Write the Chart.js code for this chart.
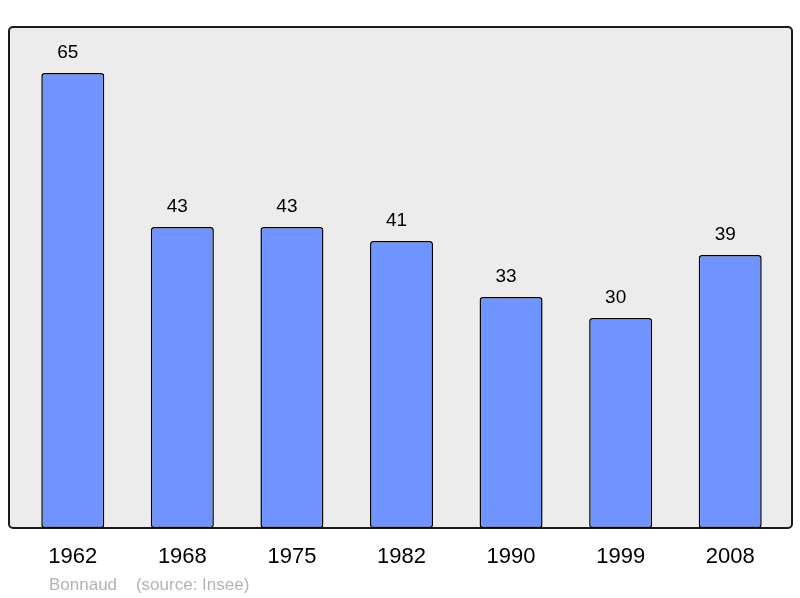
<!DOCTYPE html>
<html>
<head>
<meta charset="utf-8">
<script src="https://cdn.jsdelivr.net/npm/chart.js@4"></script>
<style>
  html, body { margin: 0; padding: 0; background: #fff; }
  #wrap { width: 800px; height: 598px; }
</style>
</head>
<body>
<div id="wrap"><canvas id="chart" width="800" height="598"></canvas></div>
<script>
// Population by census year
const years = ["1962", "1968", "1975", "1982", "1990", "1999", "2008"];
const population = [65, 43, 43, 41, 33, 30, 39];
const footerText = "Bonnaud    (source: Insee)";

// Grey framed box behind the bars
const framePlugin = {
    id: "frame",
    beforeDraw(chart) {
        const { ctx, chartArea } = chart;
        const x = chartArea.left - 9, y = chartArea.top;
        const w = chartArea.right - chartArea.left + 16, h = chartArea.bottom - chartArea.top;
        ctx.save();
        ctx.beginPath();
        ctx.roundRect(x, y, w, h, 4);
        ctx.fillStyle = "#ececec";
        ctx.fill();
        ctx.lineWidth = 2;
        ctx.strokeStyle = "#1a1a1a";
        ctx.stroke();
        ctx.restore();
    },
    afterDraw(chart) {
        const { ctx } = chart;
        ctx.save();
        ctx.font = "17px 'Liberation Sans', Arial, sans-serif";
        ctx.fillStyle = "#b3b3b3";
        ctx.textBaseline = "alphabetic";
        ctx.fillText(footerText, 49, 590);
        ctx.restore();
    }
};

// Value written above each bar
const valuePlugin = {
    id: "values",
    afterDatasetsDraw(chart) {
        const { ctx } = chart;
        const meta = chart.getDatasetMeta(0);
        ctx.save();
        ctx.font = "19px 'Liberation Sans', Arial, sans-serif";
        ctx.fillStyle = "#000";
        ctx.textAlign = "center";
        ctx.textBaseline = "alphabetic";
        meta.data.forEach((bar, i) => {
            ctx.fillText(population[i], bar.x - 5, bar.y - 15);
        });
        ctx.restore();
    }
};

const contexto = document.getElementById("chart");
const chart = new Chart(contexto, {
    type: "bar",
    data: {
        labels: years,
        datasets: [
            {
                data: population,
                backgroundColor: "#7094ff",
                borderColor: "#000",
                borderWidth: 1.5,
                borderSkipped: false,
                borderRadius: 3,
                barPercentage: 0.575,
                categoryPercentage: 1.0,
            },
        ],
    },
    options: {
        responsive: false,
        animation: false,
        layout: { padding: { left: 18, right: 15, top: 27, bottom: 0 } },
        plugins: {
            legend: { display: false },
            tooltip: { enabled: false },
        },
        scales: {
            x: {
                grid: { display: false },
                border: { display: false },
                ticks: {
                    color: "#000",
                    padding: 8,
                    font: { size: 22, family: "'Liberation Sans', Arial, sans-serif" },
                },
                afterFit(scale) { scale.height = 70; },
            },
            y: {
                display: false,
                min: 0,
                max: 71.57,
            },
        },
    },
    plugins: [framePlugin, valuePlugin],
});
</script>
</body>
</html>
